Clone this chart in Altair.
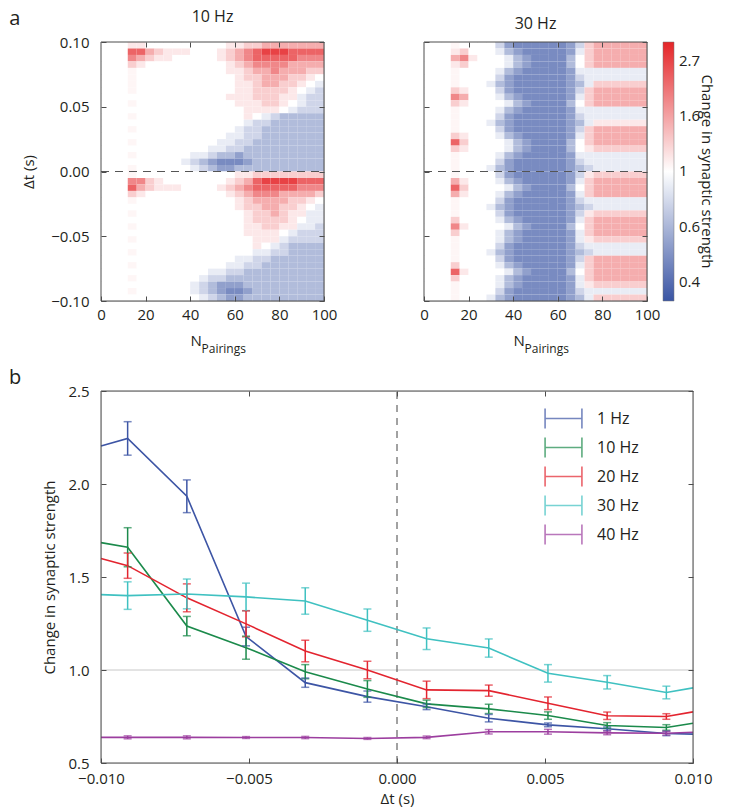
import altair as alt
import pandas as pd

FONT = "Open Sans"
INK = "#231f20"
FRAME = "#4d4d4d"

# ---------------- panel a : heat maps ----------------
N_EDGES = list(range(0, 101, 4))                              # 25 columns
DT_EDGES = [round(0.1 - 0.005 * i, 4) for i in range(41)]     # 40 rows, top -> bottom

# colour level codes -> change in synaptic strength
LEVELS = {"e": 0.45, "d": 0.52, "c": 0.63, "b": 0.75, "a": 0.88, ".": 1.00,
          "+": 1.05, "A": 1.13, "B": 1.30, "C": 1.55, "D": 1.90, "E": 2.30, "F": 2.75}

HZ10_ROWS = [
    "...AA.........AABBCCCCCCC",
    "...EECBAAA...ABCDEFFFEEEE",
    "...DCBAA.....ABCDEEEEEDDD",
    "...BA.........ABCDDDDCCCC",
    "...+..........AABCCDCCCBB",
    "...+...........ABBCCCBBA.",
    "...+...........AABCCBBA.a",
    "...+...........AABBBBA.ab",
    "..............AAABBBAAabb",
    "...+...........AAABBA.abb",
    "................AAAA.abbb",
    "...+............A.abccccc",
    "................abbcccccc",
    "...+...........abbccccccc",
    "..............aabbccccccc",
    "...+.........aabbcccccccc",
    "............aabbccccccccc",
    "...+......aabccdccccccccc",
    ".........abcdeeedcccccccc",
    "...+......abcddcccccccccc",
    "...+...........AABBBBBBBB",
    "...DDBA.......ABCEFFFFEEE",
    "...ECBAAA....ABCDEEEEEDDD",
    "...BA.........ABCDDDCCCCB",
    "...+...........ABCCCCBBA.",
    "...............ABBCCBBA.a",
    "...+............ABBCBAAaa",
    "................ABBBBA.aa",
    "...+............AABBAAaab",
    "................AAAA.abbb",
    "...+.............AAAabbbb",
    ".................A.abcccc",
    "...+.............aabbcccc",
    "...............aabbcccccc",
    "...+..........aabbccccccc",
    "............aabbccccccccc",
    "...+.......abbccccccccccc",
    "..........abcdddccccccccc",
    "...+......abcdeedcccccccc",
    "...........abcddccccccccc",
]

HZ30_ROWS = [
    "...+....bdeeeeeedbBCCCCCC",
    "...AB...acdeeeeedaBCCCCCC",
    "...CDA...acdeeeec.BCCCCCC",
    "...AB....acdeeeec.BCCCCCC",
    "...+....acdeeeeedaaaaaaaa",
    "...+....bdeeeeeedbaaaaaaa",
    "...+...acdeeeeeedcaBBBBBB",
    "...BA...bdeeeeeedbBCCCCCC",
    "...DC...acdeeeeedaBCCCCCC",
    "...BA....acdeeeec.BCCCCCC",
    "...+....acdeeeeedaaaaaaaa",
    "...+....bdeeeeeedbaaaaaaa",
    "...+...acdeeeeeedcaAAAAAA",
    "...+....bdeeeeeedbBCCCCCC",
    "...BA...acdeeeeedaBCCCCCC",
    "...EB....acdeeeec.BCCCCCC",
    "...BA....acdeeeec.ABBBBBB",
    "...+....acdeeeeedaaaaaaaa",
    "...+....bdeeeeeedbaaaaaaa",
    "...+...acdeeeeeedcbaaaaaa",
    "...+....bdeeeeeedbABBBBBB",
    "...CA...acdeeeeedaBCCCCCC",
    "...EB....acdeeeec.BCCCCCC",
    "...CA...acdeeeeedaBCCCCCC",
    "...+....bdeeeeeedbaaaaaaa",
    "...+...acdeeeeeedcbaaaaaa",
    "...+....bdeeeeeedbABBBBBB",
    "...B....acdeeeeedaBCCCCCC",
    "...DA....acdeeeec.BCCCCCC",
    "...B....acdeeeeedaBCCCCCC",
    "...+....acdeeeeedaABBBBBB",
    "...+....bdeeeeeedbaaaaaaa",
    "...+...acdeeeeeedcbaaaaaa",
    "...+....bdeeeeeedbBCCCCCC",
    "...B....acdeeeeedaBCCCCCC",
    "...EA....acdeeeec.BCCCCCC",
    "...B....acdeeeeedaBCCCCCC",
    "...+....acdeeeeedaABBBBBB",
    "...+....bdeeeeeedbaaaaaaa",
    "...+...acdeeeeeedcaBBBBBB",
]

CBAR_TICKS = [0.3679, 0.6065, 1.0, 1.6487, 2.7183]
CBAR_DOMAIN = [0.31, 1.0, 3.22]
CBAR_COLORS = ["#3a55a4", "#ffffff", "#e42528"]
CBAR_TITLE = "Change in synaptic strength"

HEAT_X_TICKS = [0, 20, 40, 60, 80, 100]
HEAT_X_MIRROR = [20, 40, 60, 80]
HEAT_Y_TICKS = [-0.1, -0.05, 0.0, 0.05, 0.1]

# ---------------- panel b : lines ----------------
DT_POINTS = [-0.0091, -0.0071, -0.0051, -0.0031, -0.0010,
             0.0010, 0.0031, 0.0051, 0.0071, 0.0091]
DT_LEFT, DT_RIGHT = -0.010, 0.010
SERIES = ["1 Hz", "10 Hz", "20 Hz", "30 Hz", "40 Hz"]
COLORS = ["#3d55a5", "#1b8a4b", "#e3242f", "#3fc1c1", "#9c3e9f"]

MEAN_1 = [2.245, 1.934, 1.180, 0.932, 0.857, 0.802, 0.741, 0.705, 0.684, 0.659]
ERR_1 = [0.090, 0.088, 0.050, 0.025, 0.030, 0.015, 0.020, 0.010, 0.010, 0.012]
EDGE_1 = [2.204, 0.655]
MEAN_10 = [1.660, 1.236, 1.120, 0.991, 0.898, 0.818, 0.791, 0.755, 0.702, 0.691]
ERR_10 = [0.105, 0.052, 0.062, 0.038, 0.045, 0.020, 0.025, 0.020, 0.015, 0.015]
EDGE_10 = [1.685, 0.714]
MEAN_20 = [1.561, 1.388, 1.248, 1.102, 1.000, 0.893, 0.889, 0.821, 0.754, 0.750]
ERR_20 = [0.068, 0.075, 0.070, 0.058, 0.047, 0.047, 0.030, 0.034, 0.020, 0.015]
EDGE_20 = [1.599, 0.775]
MEAN_30 = [1.400, 1.409, 1.393, 1.371, 1.268, 1.168, 1.118, 0.982, 0.934, 0.879]
ERR_30 = [0.074, 0.080, 0.074, 0.071, 0.060, 0.058, 0.049, 0.047, 0.036, 0.034]
EDGE_30 = [1.405, 0.904]
MEAN_40 = [0.638, 0.638, 0.637, 0.637, 0.632, 0.638, 0.668, 0.668, 0.662, 0.660]
ERR_40 = [0.008, 0.008, 0.005, 0.006, 0.005, 0.007, 0.012, 0.013, 0.010, 0.010]
EDGE_40 = [0.638, 0.665]

LINE_X_TICKS = [-0.01, -0.005, 0.0, 0.005, 0.01]
LINE_X_MIRROR = [-0.005, 0.0, 0.005]
LINE_Y_TICKS = [0.5, 1.0, 1.5, 2.0, 2.5]

HW, HH = 223, 259
LW, LH = 592, 372


def axis(orient, values, labels=True, fmt=None, title=None, label_pad=8, title_pad=8):
    kw = dict(orient=orient, values=values, tickSize=5, offset=-5, domain=False,
              grid=False, labels=labels, labelFlush=False, labelOverlap=False,
              tickColor=FRAME, tickWidth=1, zindex=1,
              labelFont=FONT, labelFontSize=15, labelColor=INK, labelPadding=label_pad,
              titleFont=FONT, titleFontSize=15, titleFontWeight="normal", titleColor=INK,
              titlePadding=title_pad, title=title)
    if fmt:
        kw["format"] = fmt
    return alt.Axis(**kw)


def grid_frame(rows):
    recs = []
    for r, s in enumerate(rows):
        s = (s + "." * 25)[:25]
        for c, ch in enumerate(s):
            recs.append({"n0": N_EDGES[c], "n1": N_EDGES[c + 1],
                         "t0": DT_EDGES[r + 1], "t1": DT_EDGES[r], "v": LEVELS[ch]})
    return pd.DataFrame(recs)


color_scale = alt.Scale(type="log", domain=CBAR_DOMAIN, range=CBAR_COLORS, interpolate="rgb")
cbar_legend = alt.Legend(
    type="gradient", title=None, orient="none", legendX=562, legendY=0,
    direction="vertical", gradientLength=HH, gradientThickness=11, values=CBAR_TICKS,
    labelExpr="datum.value == 1 ? '1' : format(datum.value, '.1f')",
    labelFont=FONT, labelFontSize=15, labelColor=INK, labelOffset=5,
    gradientStrokeColor="#777777", gradientStrokeWidth=0.5, padding=0)


def text_layer(txt, x, y, size, align="left", angle=0, baseline="alphabetic"):
    return alt.Chart(pd.DataFrame({"t": [txt]})).mark_text(
        align=align, baseline=baseline, font=FONT, fontSize=size, color=INK, angle=angle
    ).encode(text="t:N", x=alt.value(x), y=alt.value(y))


def heat_chart(rows, title, first):
    df = grid_frame(rows)
    xs = alt.Scale(domain=[0, 100], nice=False, zero=False)
    ys = alt.Scale(domain=[-0.1, 0.1], nice=False, zero=False)
    rect = alt.Chart(df).mark_rect().encode(
        x=alt.X("n0:Q", scale=xs, axis=axis("bottom", HEAT_X_TICKS, label_pad=6)),
        x2="n1:Q",
        y=alt.Y("t0:Q", scale=ys,
                axis=axis("left", HEAT_Y_TICKS, labels=first, fmt=".2f",
                          title="Δt (s)" if first else None, label_pad=12, title_pad=14)),
        y2="t1:Q",
        color=alt.Color("v:Q", scale=color_scale, legend=cbar_legend),
    )
    zero = alt.Chart(pd.DataFrame({"t": [0.0], "n0": [0], "n1": [100]})).mark_rule(
        strokeDash=[8, 6], color="#555555", strokeWidth=1.2
    ).encode(x=alt.X("n0:Q", scale=xs, axis=None), x2="n1:Q",
             y=alt.Y("t:Q", scale=ys, axis=None))
    frame = alt.Chart(pd.DataFrame({"n0": [0], "n1": [100], "t0": [-0.1], "t1": [0.1]})).mark_rect(
        fillOpacity=0, stroke=FRAME, strokeWidth=1
    ).encode(x=alt.X("n0:Q", scale=xs, axis=axis("top", HEAT_X_MIRROR, labels=False)),
             x2="n1:Q",
             y=alt.Y("t0:Q", scale=ys, axis=axis("right", HEAT_Y_TICKS, labels=False)),
             y2="t1:Q")
    layers = [rect, zero, frame,
              text_layer("N", HW / 2 - 22, HH + 45, 15),
              text_layer("Pairings", HW / 2 - 11, HH + 52, 12)]
    if not first:
        layers.append(text_layer(CBAR_TITLE, HW + 60, HH / 2, 15, align="center",
                                 angle=90, baseline="middle"))
    return alt.layer(*layers).resolve_axis(x="independent", y="independent").properties(
        width=HW, height=HH,
        title=alt.TitleParams(title, font=FONT, fontSize=16, fontWeight="normal",
                              color=INK, offset=10, anchor="middle"))


# ---------- panel b data ----------
means = [MEAN_1, MEAN_10, MEAN_20, MEAN_30, MEAN_40]
errs = [ERR_1, ERR_10, ERR_20, ERR_30, ERR_40]
edges = [EDGE_1, EDGE_10, EDGE_20, EDGE_30, EDGE_40]
line_recs, err_recs = [], []
for k, name in enumerate(SERIES):
    line_recs.append({"series": name, "k": k, "dt": DT_LEFT, "val": edges[k][0]})
    for x, m, e in zip(DT_POINTS, means[k], errs[k]):
        line_recs.append({"series": name, "k": k, "dt": x, "val": m})
        err_recs.append({"series": name, "k": k, "dt": x, "lo": m - e, "hi": m + e})
    line_recs.append({"series": name, "k": k, "dt": DT_RIGHT, "val": edges[k][1]})
line_df = pd.DataFrame(line_recs)
err_df = pd.DataFrame(err_recs)

lx = alt.Scale(domain=[-0.01, 0.01], nice=False, zero=False)
ly = alt.Scale(domain=[0.5, 2.5], nice=False, zero=False)
series_scale = alt.Scale(domain=SERIES, range=COLORS)
H_PATH = "M-1.27,-0.69L-1.27,0.69M1.27,-0.69L1.27,0.69M-1.27,0L1.27,0"
series_legend = alt.Legend(
    title=None, orient="none", legendX=447, legendY=12, symbolType=H_PATH,
    symbolSize=841, symbolStrokeWidth=1.6, labelFont=FONT, labelFontSize=16,
    labelColor=INK, labelOffset=18, rowPadding=0, padding=0)

gray = alt.Chart(pd.DataFrame({"v": [1.0], "x0": [-0.01], "x1": [0.01]})).mark_rule(
    color="#c8c8c8", strokeWidth=1
).encode(x=alt.X("x0:Q", scale=lx, axis=None), x2="x1:Q",
         y=alt.Y("v:Q", scale=ly, axis=None))
zero_b = alt.Chart(pd.DataFrame({"x": [0.0], "y0": [0.5], "y1": [2.5]})).mark_rule(
    strokeDash=[7, 6], color="#444444", strokeWidth=1
).encode(x=alt.X("x:Q", scale=lx, axis=None),
         y=alt.Y("y0:Q", scale=ly, axis=None), y2="y1:Q")
lines = alt.Chart(line_df).mark_line(strokeWidth=1.6).encode(
    x=alt.X("dt:Q", scale=lx,
            axis=axis("bottom", LINE_X_TICKS, fmt=".3f", title="Δt (s)", label_pad=8, title_pad=5)),
    y=alt.Y("val:Q", scale=ly,
            axis=axis("left", LINE_Y_TICKS, fmt=".1f", title="Change in synaptic strength",
                      label_pad=12, title_pad=10)),
    color=alt.Color("series:N", scale=series_scale, legend=series_legend),
    order="dt:Q",
    detail="k:O",
)
bars = alt.Chart(err_df).mark_errorbar(ticks=True, size=8, thickness=1.5).encode(
    x=alt.X("dt:Q", scale=lx, axis=None),
    y=alt.Y("lo:Q", scale=ly, axis=None),
    y2="hi:Q",
    color=alt.Color("series:N", scale=series_scale, legend=series_legend),
)
frame_b = alt.Chart(pd.DataFrame({"x0": [-0.01], "x1": [0.01], "y0": [0.5], "y1": [2.5]})).mark_rect(
    fillOpacity=0, stroke=FRAME, strokeWidth=1
).encode(x=alt.X("x0:Q", scale=lx, axis=axis("top", LINE_X_MIRROR, labels=False)),
         x2="x1:Q",
         y=alt.Y("y0:Q", scale=ly, axis=axis("right", LINE_Y_TICKS, labels=False)),
         y2="y1:Q")

line_chart = alt.layer(
    gray, zero_b, lines, bars, frame_b, text_layer("b", -92, -7, 20)
).resolve_axis(x="independent", y="independent").properties(width=LW, height=LH)

row1 = alt.hconcat(heat_chart(HZ10_ROWS, "10 Hz", True),
                   heat_chart(HZ30_ROWS, "30 Hz", False),
                   spacing=81).properties(
    title=alt.TitleParams("a", anchor="start", frame="bounds", font=FONT, fontSize=20,
                          fontWeight="normal", color=INK, offset=-20, dx=-12))

chart = alt.vconcat(row1, line_chart, spacing=11).resolve_scale(
    color="independent"
).properties(padding=0).configure_view(stroke=None).configure(font=FONT)

chart.save("out.html", embed_options={"renderer": "svg", "actions": False})
